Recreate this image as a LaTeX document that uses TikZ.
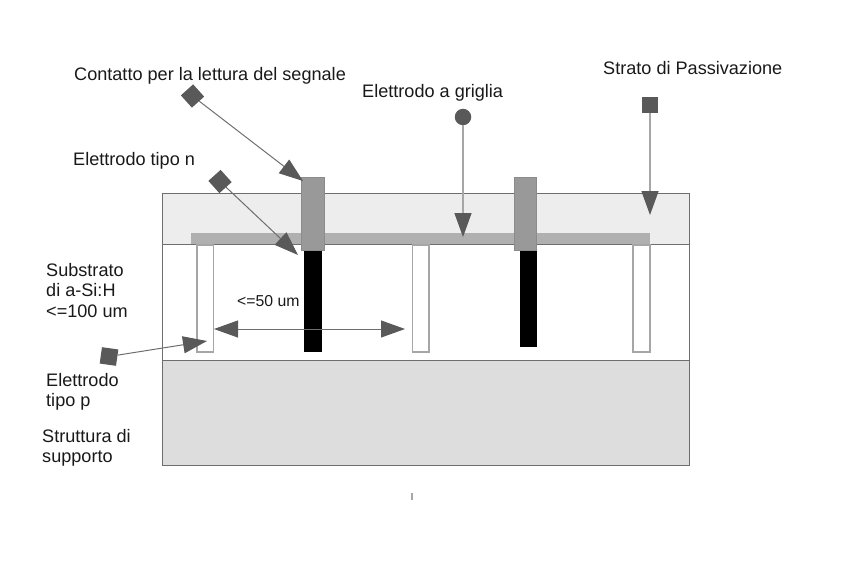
\documentclass[tikz,border=0pt]{standalone}
\usepackage{fontspec}
\setmainfont{Liberation Sans}
\usetikzlibrary{arrows.meta}
\definecolor{mk}{HTML}{595959}
\definecolor{ln}{HTML}{6E6E6E}
\definecolor{el}{HTML}{A6A6A6}
\tikzset{
  x=1pt,y=-1pt,
  layer/.style={draw=ln,line width=1pt},
  wbar/.style={draw=el,fill=white,line width=1.2pt},
  bbar/.style={fill=black},
  contact/.style={draw=ln!80!white,fill=black!40,line width=1pt},
  gridbar/.style={fill=black!31},
  lbl/.style={anchor=base west,inner sep=0pt,font=\fontsize{18.1}{20.6}\selectfont,text=black!90,align=left},
  mksq/.style={fill=mk,inner sep=0pt,minimum size=16.5pt,shape=rectangle},
  mkci/.style={fill=mk,inner sep=0pt,minimum size=16.5pt,shape=circle},
  tip/.style={-{Triangle[length=24pt,width=17pt,color=mk]}},
  conn/.style={tip,draw=ln,line width=1pt},
  vconn/.style={tip,draw=el,line width=1.4pt},
}
\begin{document}
\begin{tikzpicture}
\useasboundingbox (0,0) rectangle (853,583);
% layers
\draw[layer,fill=black!7] (162.5,193.5) rectangle (689.5,244.5);
\draw[layer,fill=white] (162.5,244.5) rectangle (689.5,360.5);
\draw[layer,fill=black!13.5] (162.5,360.5) rectangle (689.5,465);
\fill[gridbar] (191,233) rectangle (650,244);
% electrodes
\draw[wbar] (197,245) rectangle (213.5,352);
\draw[wbar] (412.5,245) rectangle (429,352);
\draw[wbar] (633,245) rectangle (650,352);
\fill[bbar] (304,250) rectangle (321.5,352);
\fill[bbar] (519.5,250) rectangle (537,346.5);
\draw[contact] (301.5,177) rectangle (324,250);
\draw[contact] (514,177) rectangle (536.5,250);
% free ends
\coordinate (tA) at (303,181);
\coordinate (tB) at (298,255);
\coordinate (tC) at (463,237);
\coordinate (tD) at (650,215);
\coordinate (tE) at (207,341);
\coordinate (dL) at (214,329);
\coordinate (dR) at (405,329);
\coordinate (k1) at (412,493);
\coordinate (k2) at (412,500);
% markers
\node[mksq,rotate=42] (mA) at (192.5,96) {};
\node[mksq,rotate=42] (mB) at (220,181.5) {};
\node[mkci] (mC) at (463,117) {};
\node[mksq] (mD) at (650,105) {};
\node[mksq,rotate=-8] (mE) at (109,356.5) {};
% connectors
\draw[conn] (mA) -- (tA);
\draw[conn] (mB) -- (tB);
\draw[vconn] (mC) -- (tC);
\draw[vconn] (mD) -- (tD);
\draw[conn] (mE) -- (tE);
\draw[{Triangle[length=24pt,width=17pt,color=mk]}-{Triangle[length=24pt,width=17pt,color=mk]},draw=ln,line width=1pt] (dL) -- (dR);
\draw[draw=el,line width=1.2pt] (k1) -- (k2);
% labels
\node[lbl] (l1) at (74,81) {Contatto per la lettura del segnale};
\node[lbl] (l2) at (362,97.7) {Elettrodo a griglia};
\node[lbl] (l3) at (603,74.7) {Strato di Passivazione};
\node[lbl] (l4) at (73,165.7) {Elettrodo tipo n};
\node[lbl,anchor=north west] (l5) at (46,262.7) {Substrato\\di a-Si:H\\<=100 um};
\node[lbl,font=\fontsize{15.8}{18}\selectfont] (l6) at (237,306) {<=50 um};
\node[lbl,anchor=north west] (l7) at (46,372.7) {Elettrodo\\tipo p};
\node[lbl,anchor=north west] (l8) at (42,428.7) {Struttura di\\supporto};
\end{tikzpicture}
\end{document}
